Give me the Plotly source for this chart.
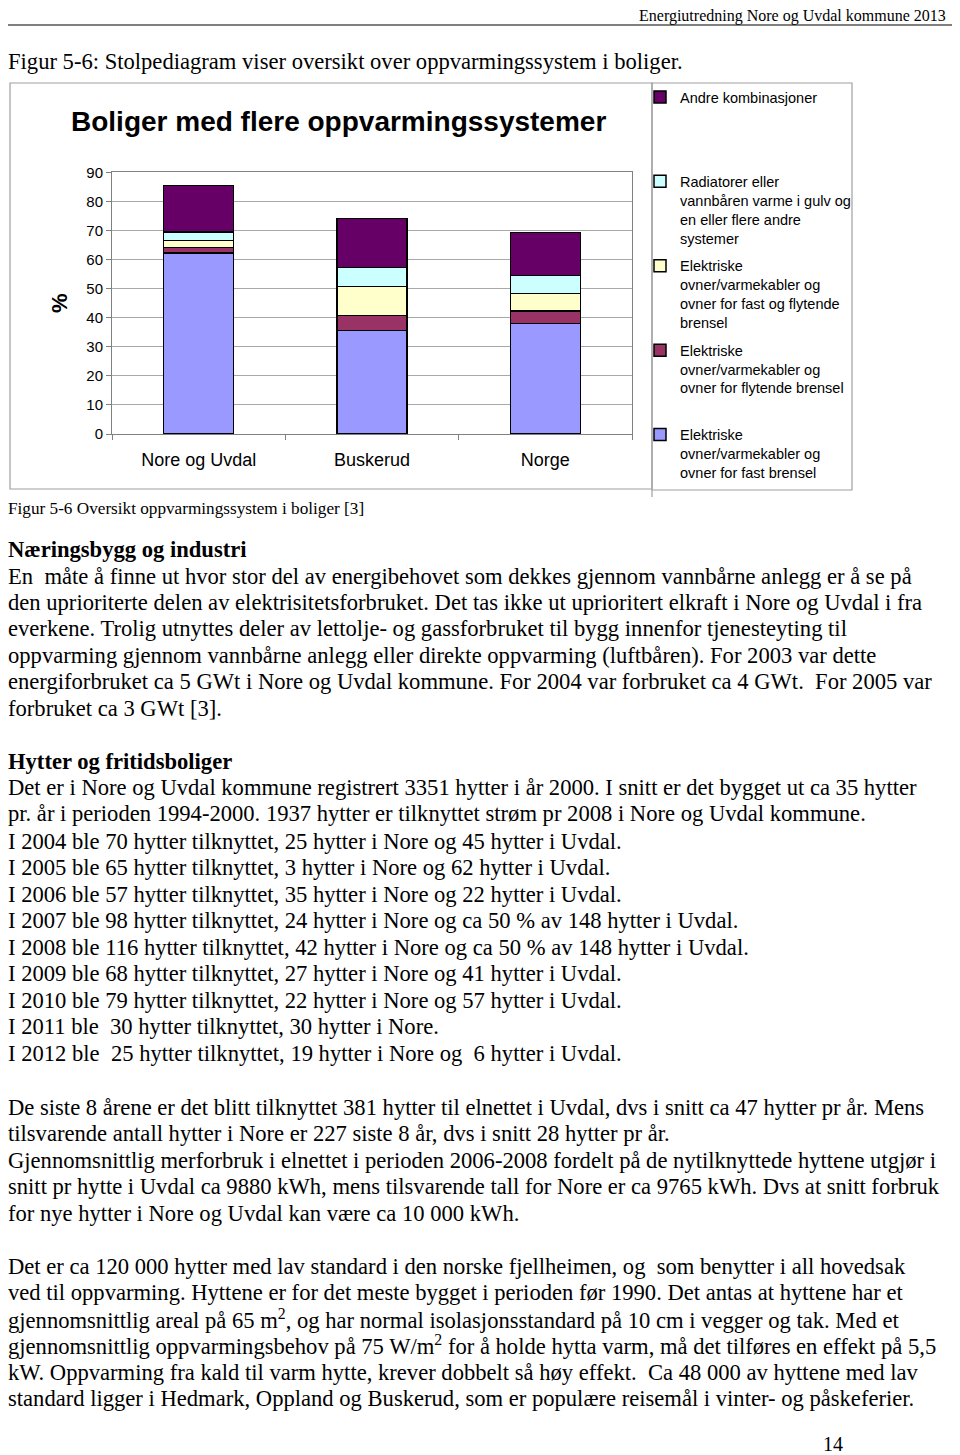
import plotly.graph_objects as go

# Page (browser) size and the 8px default body margin of the html page
PAGE_W, PAGE_H = 960, 1455
OFF = 8
W, H = PAGE_W - OFF, PAGE_H - OFF

categories = ["Nore og Uvdal", "Buskerud", "Norge"]
series_names = [
    "Elektriske<br>ovner/varmekabler og<br>ovner for fast brensel",
    "Elektriske<br>ovner/varmekabler og<br>ovner for flytende brensel<br> ",
    "Elektriske<br>ovner/varmekabler og<br>ovner for fast og flytende<br>brensel",
    "Radiatorer eller<br>vannbåren varme i gulv og<br>en eller flere andre<br>systemer",
    "Andre kombinasjoner<br> <br> <br> ",
]
fast_brensel = [62.2, 35.6, 38.0]
flytende_brensel = [1.9, 5.2, 4.3]
fast_og_flytende = [2.5, 9.9, 6.0]
radiatorer = [2.8, 6.6, 6.2]
andre = [16.0, 16.8, 14.8]
series_values = [fast_brensel, flytende_brensel, fast_og_flytende, radiatorer, andre]
series_colors = ["#9999FF", "#993366", "#FFFFCC", "#CCFFFF", "#660066"]
legend_ranks = [5, 4, 3, 2, 1]
y_ticks = [0, 10, 20, 30, 40, 50, 60, 70, 80, 90]

chart_title = "Boliger med flere oppvarmingssystemer"
header_text = "Energiutredning Nore og Uvdal kommune 2013"
figure_heading = "Figur 5-6: Stolpediagram viser oversikt over oppvarmingssystem i boliger."
figure_caption = "Figur 5-6 Oversikt oppvarmingssystem i boliger [3]"
page_number = "14"

# (y pixel on page, text)
body_lines = [
    (549, "<b>Næringsbygg og industri</b>"),
    (576, "En  måte å finne ut hvor stor del av energibehovet som dekkes gjennom vannbårne anlegg er å se på"),
    (602, "den uprioriterte delen av elektrisitetsforbruket. Det tas ikke ut uprioritert elkraft i Nore og Uvdal i fra"),
    (628, "everkene. Trolig utnyttes deler av lettolje- og gassforbruket til bygg innenfor tjenesteyting til"),
    (655, "oppvarming gjennom vannbårne anlegg eller direkte oppvarming (luftbåren). For 2003 var dette"),
    (681, "energiforbruket ca 5 GWt i Nore og Uvdal kommune. For 2004 var forbruket ca 4 GWt.  For 2005 var"),
    (708, "forbruket ca 3 GWt [3]."),
    (761, "<b>Hytter og fritidsboliger</b>"),
    (788, "Det er i Nore og Uvdal kommune registrert 3351 hytter i år 2000. I snitt er det bygget ut ca 35 hytter"),
    (814, "pr. år i perioden 1994-2000. 1937 hytter er tilknyttet strøm pr 2008 i Nore og Uvdal kommune."),
    (841, "I 2004 ble 70 hytter tilknyttet, 25 hytter i Nore og 45 hytter i Uvdal."),
    (867, "I 2005 ble 65 hytter tilknyttet, 3 hytter i Nore og 62 hytter i Uvdal."),
    (894, "I 2006 ble 57 hytter tilknyttet, 35 hytter i Nore og 22 hytter i Uvdal."),
    (920, "I 2007 ble 98 hytter tilknyttet, 24 hytter i Nore og ca 50 % av 148 hytter i Uvdal."),
    (947, "I 2008 ble 116 hytter tilknyttet, 42 hytter i Nore og ca 50 % av 148 hytter i Uvdal."),
    (973, "I 2009 ble 68 hytter tilknyttet, 27 hytter i Nore og 41 hytter i Uvdal."),
    (1000, "I 2010 ble 79 hytter tilknyttet, 22 hytter i Nore og 57 hytter i Uvdal."),
    (1026, "I 2011 ble  30 hytter tilknyttet, 30 hytter i Nore."),
    (1053, "I 2012 ble  25 hytter tilknyttet, 19 hytter i Nore og  6 hytter i Uvdal."),
    (1107, "De siste 8 årene er det blitt tilknyttet 381 hytter til elnettet i Uvdal, dvs i snitt ca 47 hytter pr år. Mens"),
    (1133, "tilsvarende antall hytter i Nore er 227 siste 8 år, dvs i snitt 28 hytter pr år."),
    (1160, "Gjennomsnittlig merforbruk i elnettet i perioden 2006-2008 fordelt på de nytilknyttede hyttene utgjør i"),
    (1186, "snitt pr hytte i Uvdal ca 9880 kWh, mens tilsvarende tall for Nore er ca 9765 kWh. Dvs at snitt forbruk"),
    (1213, "for nye hytter i Nore og Uvdal kan være ca 10 000 kWh."),
    (1266, "Det er ca 120 000 hytter med lav standard i den norske fjellheimen, og  som benytter i all hovedsak"),
    (1292, "ved til oppvarming. Hyttene er for det meste bygget i perioden før 1990. Det antas at hyttene har et"),
    (1319, "gjennomsnittlig areal på 65 m<sup>2</sup>, og har normal isolasjonsstandard på 10 cm i vegger og tak. Med et"),
    (1345, "gjennomsnittlig oppvarmingsbehov på 75 W/m<sup>2</sup> for å holde hytta varm, må det tilføres en effekt på 5,5"),
    (1372, "kW. Oppvarming fra kald til varm hytte, krever dobbelt så høy effekt.  Ca 48 000 av hyttene med lav"),
    (1398, "standard ligger i Hedmark, Oppland og Buskerud, som er populære reisemål i vinter- og påskeferier."),
]

def px(x):
    return (x - OFF) / W

def py(y):
    return 1 - (y - OFF) / H

SANS = "Liberation Sans, Arial, sans-serif"
SERIF = "Liberation Serif, Times New Roman, serif"
BODY = 22.6

fig = go.Figure()
for name, vals, col, rank in zip(series_names, series_values, series_colors, legend_ranks):
    fig.add_trace(go.Bar(
        x=categories, y=vals, name=name,
        marker=dict(color=col, line=dict(color="black", width=1.5)),
        legendgroup=name, legendrank=rank,
    ))

fig.update_layout(
    width=W, height=H,
    margin=dict(l=0, r=0, t=0, b=0),
    paper_bgcolor="white", plot_bgcolor="white",
    barmode="stack", bargap=0.596,
    showlegend=True,
    legend=dict(
        x=px(640), y=py(81), xanchor="left", yanchor="top",
        traceorder="grouped", tracegroupgap=6,
        font=dict(family=SANS, size=14.5, color="black"),
        bgcolor="rgba(0,0,0,0)", valign="top",
        itemclick=False,
    ),
    xaxis=dict(
        domain=[px(112), px(632)], automargin=False,
        tickson="boundaries", ticks="outside", ticklen=5, tickcolor="#808080",
        showline=True, linecolor="#808080", linewidth=1, mirror=True,
        tickfont=dict(family=SANS, size=18, color="black"),
        ticklabelstandoff=9,
        showgrid=False,
    ),
    yaxis=dict(
        domain=[py(434), py(172.3)], automargin=False,
        range=[0, 90], tickvals=y_ticks, ticks="outside", ticklen=5, tickcolor="#808080",
        showline=True, linecolor="#808080", linewidth=1, mirror=True,
        gridcolor="#a8a8a8", gridwidth=1,
        tickfont=dict(family=SANS, size=15, color="black"),
        title=dict(text="<b>%</b>", font=dict(family=SANS, size=22, color="black"), standoff=12),
        zeroline=False,
    ),
)

shapes = [
    dict(type="line", xref="paper", yref="paper", x0=px(0), x1=px(960), y0=py(25), y1=py(25),
         line=dict(color="#808080", width=2)),
    dict(type="rect", xref="paper", yref="paper", x0=px(10), x1=px(652), y0=py(489), y1=py(83),
         line=dict(color="#a0a0a0", width=1.2)),
    dict(type="rect", xref="paper", yref="paper", x0=px(652), x1=px(852), y0=py(490), y1=py(83),
         line=dict(color="#a0a0a0", width=1.2)),
    dict(type="line", xref="paper", yref="paper", x0=px(652), x1=px(652), y0=py(497), y1=py(490),
         line=dict(color="#a0a0a0", width=1.2)),
]
fig.update_layout(shapes=shapes)

ann = []
ann.append(dict(text=header_text, x=px(948), y=py(16), xanchor="right", yanchor="middle",
                font=dict(family=SERIF, size=16, color="black")))
ann.append(dict(text=figure_heading, x=px(6), y=py(62), xanchor="left", yanchor="middle",
                font=dict(family=SERIF, size=BODY, color="black")))
ann.append(dict(text="<b>" + chart_title + "</b>", x=px(338), y=py(121), xanchor="center", yanchor="middle",
                font=dict(family=SANS, size=28, color="black")))
ann.append(dict(text=figure_caption, x=px(6), y=py(508), xanchor="left", yanchor="middle",
                font=dict(family=SERIF, size=17.2, color="black")))
for yv, t in body_lines:
    ann.append(dict(text=t, x=px(6), y=py(yv), xanchor="left", yanchor="middle",
                    font=dict(family=SERIF, size=BODY, color="black")))
ann.append(dict(text=page_number, x=px(833), y=py(1444), xanchor="center", yanchor="middle",
                font=dict(family=SERIF, size=20, color="black")))
for a in ann:
    a.update(xref="paper", yref="paper", showarrow=False)
fig.update_layout(annotations=ann)

fig.write_html("out.html")
